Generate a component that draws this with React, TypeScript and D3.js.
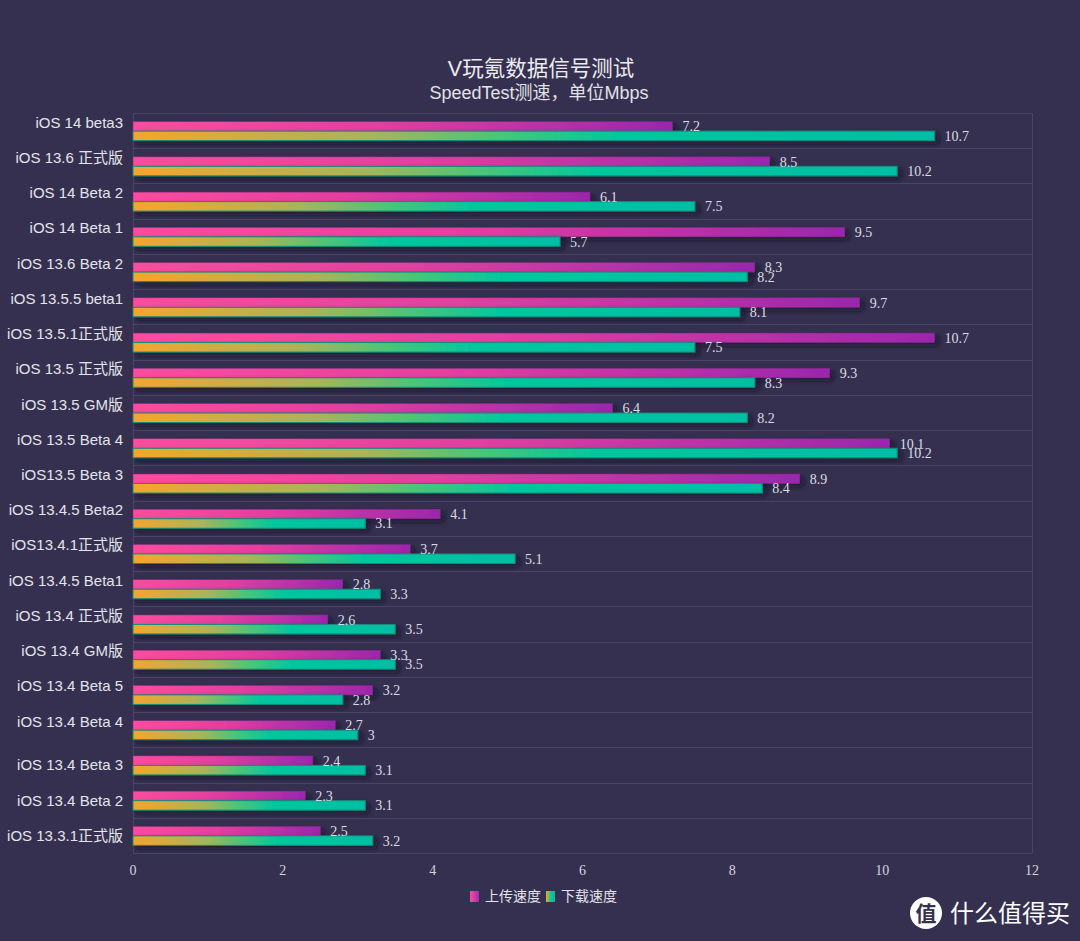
import React from "react";
import * as d3 from "d3";

const categories: string[] = [
  "iOS 14 beta3\n",
  "iOS 13.6 正式版\n",
  "iOS 14 Beta 2\n",
  "iOS 14 Beta 1\n",
  "iOS 13.6 Beta 2\n",
  "iOS 13.5.5 beta1\n",
  "iOS 13.5.1正式版\n",
  "iOS 13.5 正式版\n",
  "iOS 13.5 GM版\n",
  "iOS 13.5 Beta 4\n",
  "iOS13.5 Beta 3\n",
  "iOS 13.4.5 Beta2\n",
  "iOS13.4.1正式版\n",
  "iOS 13.4.5 Beta1\n",
  "iOS 13.4 正式版\n",
  "iOS 13.4 GM版\n",
  "iOS 13.4 Beta 5\n",
  "iOS 13.4 Beta 4\n",
  "iOS 13.4 Beta 3",
  "iOS 13.4 Beta 2",
  "iOS 13.3.1正式版",
];
const uploadValues: number[] = [7.2, 8.5, 6.1, 9.5, 8.3, 9.7, 10.7, 9.3, 6.4, 10.1, 8.9, 4.1, 3.7, 2.8, 2.6, 3.3, 3.2, 2.7, 2.4, 2.3, 2.5];
const downloadValues: number[] = [10.7, 10.2, 7.5, 5.7, 8.2, 8.1, 7.5, 8.3, 8.2, 10.2, 8.4, 3.1, 5.1, 3.3, 3.5, 3.5, 2.8, 3, 3.1, 3.1, 3.2];
const xTicks: number[] = [0, 2, 4, 6, 8, 10, 12];
const seriesNames: string[] = ["上传速度", "下载速度"];
const titleText = "V玩氪数据信号测试";
const subtitleText = "SpeedTest测速，单位Mbps";
const watermarkText = "什么值得买";

const W = 1080;
const H = 941;
const margin = { left: 133, right: 48, top: 113, bottom: 88 };
const BG = "#35304f";
const GRID = "#4a4568";
const SANS = "'Liberation Sans', 'Noto Sans CJK SC', sans-serif";
const SERIF = "'Liberation Serif', 'DejaVu Serif', serif";

export default function App() {
  const x = d3.scaleLinear().domain([0, 12]).range([margin.left, W - margin.right]);
  const y = d3
    .scaleBand<number>()
    .domain(d3.range(categories.length))
    .range([margin.top, H - margin.bottom])
    .paddingInner(0)
    .paddingOuter(0);
  const bw = y.bandwidth();
  const barH = 9.5;
  const lineH = 17;

  return (
    <svg
      width={W}
      height={H}
      style={{ position: "absolute", left: 0, top: 0, display: "block" }}
      xmlns="http://www.w3.org/2000/svg"
    >
      <defs>
        <linearGradient id="gUp" x1="0" y1="0" x2="1" y2="0">
          <stop offset="0" stopColor="#fb4d9d" />
          <stop offset="0.45" stopColor="#e43f9f" />
          <stop offset="1" stopColor="#9b27ad" />
        </linearGradient>
        <linearGradient id="gDown" x1="0" y1="0" x2="1" y2="0">
          <stop offset="0" stopColor="#f6a52c" />
          <stop offset="0.3" stopColor="#a9b45a" />
          <stop offset="0.45" stopColor="#4cc577" />
          <stop offset="0.6" stopColor="#05c79d" />
          <stop offset="1" stopColor="#00bea4" />
        </linearGradient>
        <linearGradient id="gUpLeg" x1="0" y1="0" x2="1" y2="0">
          <stop offset="0" stopColor="#fb4d9d" />
          <stop offset="1" stopColor="#a82aaf" />
        </linearGradient>
        <linearGradient id="gDownLeg" x1="0" y1="0" x2="1" y2="0">
          <stop offset="0" stopColor="#f6a52c" />
          <stop offset="0.6" stopColor="#05c79d" />
          <stop offset="1" stopColor="#00bea4" />
        </linearGradient>
        <filter id="shadow" x="-5%" y="-50%" width="115%" height="250%">
          <feDropShadow dx="4" dy="3" stdDeviation="2.5" floodColor="#120f22" floodOpacity="0.65" />
        </filter>
      </defs>
      <rect x={0} y={0} width={W} height={H} fill={BG} />

      {/* Title */}
      <text x={W / 2 + 1} y={76} textAnchor="middle" fill="#ececf2" fontFamily={SANS} fontSize={21.5}>
        {titleText}
      </text>
      <text x={W / 2 - 1} y={99} textAnchor="middle" fill="#e2e2ea" fontFamily={SANS} fontSize={18}>
        {subtitleText}
      </text>

      {/* grid lines */}
      {d3.range(categories.length + 1).map((i) => {
        const yy = Math.round(margin.top + i * bw) + 0.5;
        return <line key={"h" + i} x1={margin.left} x2={W - margin.right} y1={yy} y2={yy} stroke={GRID} strokeWidth={1} />;
      })}
      <line x1={x(0) + 0.5} x2={x(0) + 0.5} y1={margin.top} y2={H - margin.bottom} stroke={GRID} />
      <line x1={x(12) + 0.5} x2={x(12) + 0.5} y1={margin.top} y2={H - margin.bottom} stroke={GRID} />

      {/* category labels */}
      {categories.map((c, i) => {
        const lines = c.split("\n");
        const cy = (y(i) as number) + bw / 2;
        const startY = cy - ((lines.length - 1) * lineH) / 2;
        return (
          <text key={"c" + i} x={x(0) - 10} textAnchor="end" fill="#e4e4ec" fontFamily={SANS} fontSize={15}>
            {lines.map((l, j) => (
              <tspan key={j} x={x(0) - 10} y={startY + j * lineH + 5.5}>
                {l}
              </tspan>
            ))}
          </text>
        );
      })}

      {/* bars */}
      {categories.map((_, i) => {
        const cy = (y(i) as number) + bw / 2 + 0.5;
        const u = uploadValues[i];
        const d = downloadValues[i];
        return (
          <g key={"b" + i}>
            <rect
              x={x(0)}
              y={cy - barH}
              width={x(u) - x(0)}
              height={barH}
              fill="url(#gUp)"
              stroke="#7a2a86"
              strokeWidth={0.5}
              filter="url(#shadow)"
            />
            <rect
              x={x(0)}
              y={cy}
              width={x(d) - x(0)}
              height={barH}
              fill="url(#gDown)"
              stroke="#138c7c"
              strokeWidth={1}
              filter="url(#shadow)"
            />
          </g>
        );
      })}

      {/* value labels */}
      {categories.map((_, i) => {
        const cy = (y(i) as number) + bw / 2 + 0.5;
        const u = uploadValues[i];
        const d = downloadValues[i];
        return (
          <g key={"v" + i} fontFamily={SERIF} fontSize={14} fill="#dcdce4">
            <text x={x(u) + 10} y={cy - barH / 2 + 5}>
              {String(u)}
            </text>
            <text x={x(d) + 10} y={cy + barH / 2 + 5}>
              {String(d)}
            </text>
          </g>
        );
      })}

      {/* x axis ticks */}
      {xTicks.map((t) => (
        <text key={"t" + t} x={x(t)} y={875} textAnchor="middle" fill="#d4d4de" fontFamily={SERIF} fontSize={14}>
          {t}
        </text>
      ))}

      {/* legend */}
      <g>
        <rect x={470} y={891} width={9} height={11} fill="url(#gUpLeg)" />
        <text x={485} y={901} fill="#e4e4ec" fontFamily={SANS} fontSize={14}>
          {seriesNames[0]}
        </text>
        <rect x={546} y={891} width={9} height={11} fill="url(#gDownLeg)" />
        <text x={561} y={901} fill="#e4e4ec" fontFamily={SANS} fontSize={14}>
          {seriesNames[1]}
        </text>
      </g>

      {/* watermark */}
      <g>
        <circle cx={926} cy={913} r={16} fill="#ffffff" />
        <text x={926} y={921} textAnchor="middle" fill="#36314f" fontFamily="'Noto Sans CJK SC', sans-serif" fontWeight={700} fontSize={21}>
          值
        </text>
        <text x={950} y={922} fill="#ffffff" fontFamily="'Noto Sans CJK SC', sans-serif" fontSize={24}>
          {watermarkText}
        </text>
      </g>
    </svg>
  );
}
